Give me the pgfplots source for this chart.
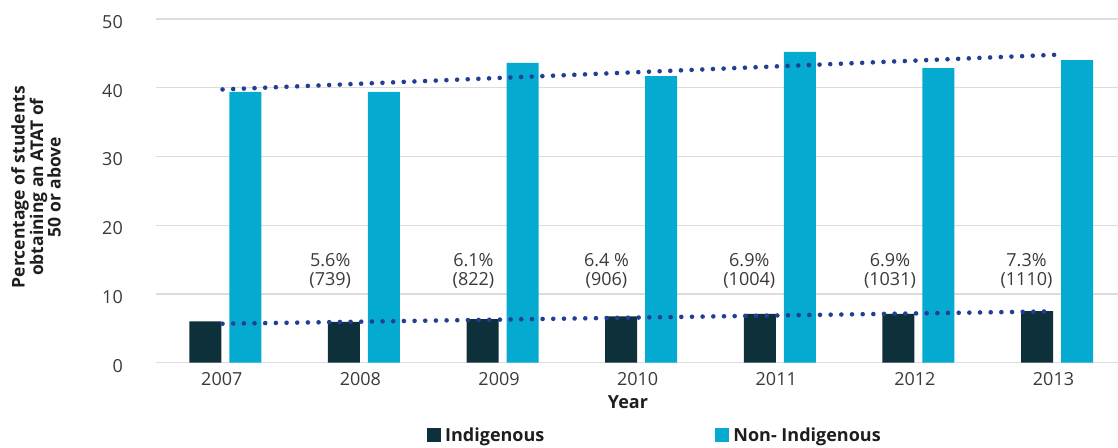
\documentclass[border=0pt]{standalone}
\usepackage{fontspec}
\setmainfont{Open Sans}
\usepackage{pgfplots}
\pgfplotsset{compat=1.18}
\definecolor{indig}{HTML}{0E303B}
\definecolor{nonindig}{HTML}{05AAD1}
\definecolor{trend}{HTML}{233E96}
\definecolor{gridc}{HTML}{DCDCDC}
\definecolor{txt}{HTML}{3A3A3A}
\definecolor{ttl}{HTML}{1E1E1E}
\tikzset{lbl/.style={font=\fontsize{18}{19}\selectfont, text=txt, align=center}}
\begin{document}
\begin{tikzpicture}[x=1pt,y=1pt]
\path[use as bounding box] (0,0) rectangle (1118,447);
\begin{axis}[
  at={(156pt,84.3pt)}, anchor=south west,
  scale only axis, width=962pt, height=343.7pt,
  xmin=-0.5, xmax=6.44, ymin=0, ymax=50,
  ytick={0,10,...,50},
  xtick={0,...,6}, xticklabels={2007,2008,2009,2010,2011,2012,2013},
  ymajorgrids, major grid style={gridc, line width=1.3pt},
  axis line style={draw=none},
  major tick length=0pt,
  tick label style={font=\fontsize{18}{20}\selectfont, text=txt},
  yticklabel style={anchor=east, inner sep=0pt, xshift=-33pt, yshift=-3pt},
  xticklabel style={anchor=north, inner sep=0pt, yshift=-9.5pt, xshift=-3.5pt},
  /pgf/number format/assume math mode=true,
  xlabel={Year}, ylabel={Percentage of students\\obtaining an ATAT of\\50 or above},
  every axis x label/.style={at={(rel axis cs:0.4906,-0.114)}, anchor=center, font=\bfseries\fontsize{18}{20}\selectfont, text=ttl},
  every axis y label/.style={at={(rel axis cs:-0.1247,0.511)}, rotate=90, anchor=center, align=center, font=\bfseries\fontsize{17.5}{17.5}\selectfont, text=ttl},
  legend columns=2,
  legend style={at={(rel axis cs:0.2817,-0.2118)}, anchor=west, draw=none, fill=none, inner sep=0pt,
    font=\bfseries\fontsize{18}{20}\selectfont, text=ttl,
    nodes={inner sep=0pt},
    /tikz/every odd column/.append style={column sep=4pt},
    /tikz/every even column/.append style={column sep=171pt}},
]
\addplot[ybar, bar width=32pt, bar shift=-20pt, fill=indig, draw=none,
  legend image code/.code={\fill[indig] (0pt,-7pt) rectangle (14pt,7pt);}]
  coordinates {(0,6.0) (1,5.95) (2,6.35) (3,6.73) (4,7.1) (5,7.1) (6,7.5)};
\addlegendentry{Indigenous}
\addplot[ybar, bar width=32pt, bar shift=20pt, fill=nonindig, draw=none,
  legend image code/.code={\fill[nonindig] (0pt,-7pt) rectangle (14pt,7pt);}]
  coordinates {(0,39.4) (1,39.4) (2,43.6) (3,41.7) (4,45.2) (5,42.85) (6,44.0)};
\addlegendentry{Non- Indigenous}
\addplot[trend, line width=4.6pt, line cap=round, dash pattern=on 0pt off 10.67pt, forget plot]
  coordinates {(-0.02,39.75) (5.99,44.8)};
\addplot[trend, line width=4.6pt, line cap=round, dash pattern=on 0pt off 10.67pt, forget plot]
  coordinates {(-0.02,5.67) (5.91,7.45)};
\node[lbl] at (axis cs:0.757,13.4) {5.6\%\\(739)};
\node[lbl] at (axis cs:1.79,13.4) {6.1\%\\(822)};
\node[lbl] at (axis cs:2.75,13.4) {6.4 \%\\(906)};
\node[lbl] at (axis cs:3.78,13.4) {6.9\%\\(1004)};
\node[lbl] at (axis cs:4.795,13.4) {6.9\%\\(1031)};
\node[lbl] at (axis cs:5.78,13.4) {7.3\%\\(1110)};
\end{axis}
\end{tikzpicture}
\end{document}
